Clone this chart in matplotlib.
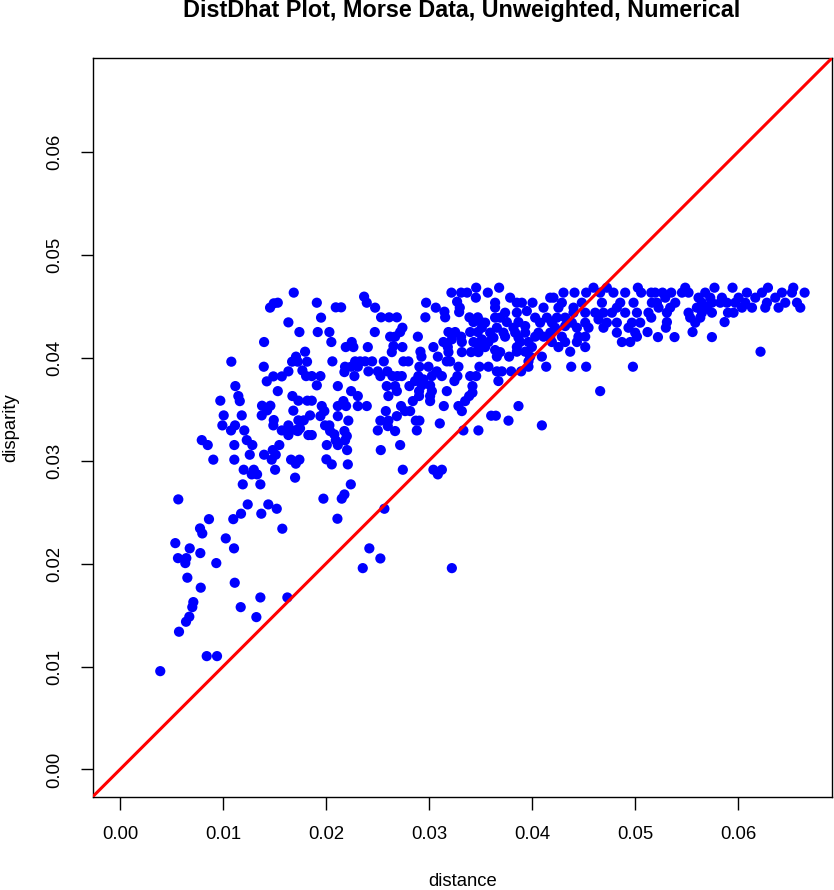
import matplotlib
matplotlib.use("Agg")
import matplotlib.pyplot as plt
import numpy as np

plt.rcParams['font.family'] = ['Liberation Sans', 'DejaVu Sans']

# ---- data: lower-left scatter group ----
dist_low = [0.01192, 0.01363, 0.00566, 0.01240, 0.01440, 0.01522, 0.01175, 0.01372, 0.01100, 0.00864,
            0.00777, 0.00799, 0.01576, 0.01027, 0.00537, 0.00677, 0.01107, 0.00780, 0.00563, 0.00644,
            0.00634, 0.00935, 0.00654, 0.01114, 0.00784, 0.01363, 0.01625, 0.01172, 0.01324, 0.00712,
            0.00702, 0.00673, 0.00641, 0.00573, 0.00842, 0.00942, 0.00391]
disp_low = [0.02770, 0.02770, 0.02624, 0.02575, 0.02575, 0.02533, 0.02485, 0.02485, 0.02432, 0.02432,
            0.02342, 0.02293, 0.02339, 0.02245, 0.02199, 0.02148, 0.02148, 0.02102, 0.02053, 0.02053,
            0.02005, 0.02005, 0.01863, 0.01814, 0.01766, 0.01671, 0.01671, 0.01577, 0.01480, 0.01626,
            0.01577, 0.01484, 0.01435, 0.01338, 0.01101, 0.01101, 0.00955]

# ---- upper-left group ----
dist_ul = [0.01687, 0.01493, 0.01532, 0.01457, 0.01635, 0.01742, 0.01399, 0.01797, 0.01709, 0.01671,
           0.01726, 0.01816, 0.01081, 0.01396, 0.01635, 0.01771, 0.01807, 0.01862, 0.01489, 0.01571,
           0.01425, 0.01120, 0.01532, 0.01149, 0.01163, 0.00974, 0.01674, 0.01732, 0.01819, 0.01862,
           0.01379, 0.01460, 0.01428, 0.01683, 0.01007, 0.01182, 0.01376, 0.01845, 0.01493, 0.00994,
           0.01117, 0.01489, 0.01635, 0.01732, 0.01784, 0.01078, 0.01207, 0.01571, 0.01635, 0.01707,
           0.01748, 0.01635, 0.01726, 0.01829, 0.01862, 0.00794, 0.00852, 0.01231, 0.01285, 0.01110,
           0.01547, 0.01399, 0.01483, 0.01512, 0.01260, 0.00906, 0.01110, 0.01473, 0.01661, 0.01707,
           0.01742, 0.01201, 0.01299, 0.01331, 0.01279, 0.01506, 0.01700]
disp_ul = [0.04633, 0.04529, 0.04535, 0.04487, 0.04344, 0.04250, 0.04153, 0.04059, 0.04011, 0.03962,
           0.03962, 0.03962, 0.03962, 0.03913, 0.03868, 0.03877, 0.03822, 0.03822, 0.03819, 0.03819,
           0.03771, 0.03725, 0.03676, 0.03628, 0.03579, 0.03583, 0.03628, 0.03583, 0.03583, 0.03583,
           0.03534, 0.03534, 0.03489, 0.03486, 0.03440, 0.03440, 0.03440, 0.03440, 0.03395, 0.03343,
           0.03343, 0.03343, 0.03343, 0.03392, 0.03392, 0.03294, 0.03294, 0.03294, 0.03272, 0.03297,
           0.03314, 0.03249, 0.03288, 0.03249, 0.03249, 0.03200, 0.03152, 0.03200, 0.03152, 0.03152,
           0.03152, 0.03058, 0.03103, 0.03058, 0.03058, 0.03010, 0.03010, 0.03010, 0.03010, 0.02971,
           0.03010, 0.02912, 0.02912, 0.02867, 0.02867, 0.02912, 0.02835]

# ---- middle group ----
dist_mid = [0.03458, 0.03218, 0.03312, 0.03370, 0.03455, 0.02370, 0.02396, 0.01911, 0.02477, 0.02095,
            0.02147, 0.02972, 0.03066, 0.03273, 0.03299, 0.03150, 0.03293, 0.01952, 0.02535, 0.02613,
            0.02688, 0.02965, 0.03157, 0.03393, 0.03474, 0.03506, 0.03432, 0.01920, 0.02033, 0.02474,
            0.02742, 0.02720, 0.02671, 0.02623, 0.02892, 0.03189, 0.03254, 0.03312, 0.03400, 0.03474,
            0.03513, 0.02052, 0.02250, 0.02192, 0.02266, 0.02406, 0.02655, 0.02742, 0.03043, 0.03140,
            0.03183, 0.03222, 0.03319, 0.03432, 0.03480, 0.03513, 0.02639, 0.02917, 0.03189, 0.03319,
            0.03409, 0.03480, 0.02062, 0.02283, 0.02331, 0.02380, 0.02448, 0.02561, 0.02752, 0.02800,
            0.02927, 0.03086, 0.03173, 0.03205, 0.02185, 0.02244, 0.02309, 0.02907, 0.02995, 0.03286,
            0.03490, 0.02179, 0.02412, 0.02503, 0.02596, 0.02645, 0.02736, 0.03076, 0.03125, 0.03276,
            0.03400, 0.03458, 0.01946, 0.01911, 0.02276, 0.02528, 0.02693, 0.02897, 0.02946, 0.03028,
            0.02865, 0.02930, 0.03011, 0.02810, 0.02590, 0.02671, 0.02115, 0.03247, 0.03422, 0.03173,
            0.02244, 0.02688, 0.02904, 0.03028, 0.02309, 0.02606, 0.02904, 0.03011, 0.03390, 0.03422,
            0.02169, 0.02843, 0.03011, 0.03351, 0.01959, 0.02115, 0.02195, 0.02309, 0.02396, 0.02729,
            0.03144, 0.03286, 0.01984, 0.02581, 0.02768, 0.02817, 0.03319, 0.01946, 0.02115, 0.02688,
            0.01991, 0.02033, 0.02217, 0.02528, 0.02606, 0.02872, 0.02907, 0.03105, 0.02040, 0.02081,
            0.02179, 0.02202, 0.02503, 0.02600, 0.02671, 0.02882, 0.03334, 0.03480, 0.02095, 0.02185,
            0.02008, 0.02115, 0.02720, 0.02205, 0.02532, 0.02004, 0.02056, 0.02212, 0.02746, 0.03043,
            0.03125, 0.03086, 0.02241, 0.02179, 0.02153, 0.01975, 0.02567, 0.02111, 0.02421, 0.02528,
            0.02357, 0.03222]
disp_mid = [0.04681, 0.04633, 0.04633, 0.04633, 0.04584, 0.04594, 0.04535, 0.04535, 0.04487, 0.04490,
            0.04490, 0.04535, 0.04487, 0.04545, 0.04487, 0.04448, 0.04444, 0.04390, 0.04393, 0.04393,
            0.04393, 0.04393, 0.04393, 0.04393, 0.04393, 0.04347, 0.04347, 0.04250, 0.04250, 0.04250,
            0.04292, 0.04250, 0.04205, 0.04205, 0.04205, 0.04250, 0.04250, 0.04205, 0.04250, 0.04250,
            0.04292, 0.04153, 0.04153, 0.04104, 0.04104, 0.04104, 0.04114, 0.04104, 0.04104, 0.04153,
            0.04104, 0.04179, 0.04153, 0.04153, 0.04104, 0.04179, 0.04055, 0.04059, 0.04055, 0.04055,
            0.04055, 0.04055, 0.03965, 0.03965, 0.03965, 0.03965, 0.03965, 0.03965, 0.03965, 0.03965,
            0.04011, 0.04011, 0.03965, 0.03965, 0.03913, 0.03913, 0.03913, 0.03913, 0.03913, 0.03913,
            0.03913, 0.03861, 0.03868, 0.03868, 0.03868, 0.03822, 0.03822, 0.03868, 0.03822, 0.03822,
            0.03822, 0.03822, 0.03822, 0.03732, 0.03822, 0.03822, 0.03822, 0.03822, 0.03790, 0.03822,
            0.03774, 0.03732, 0.03732, 0.03725, 0.03725, 0.03725, 0.03725, 0.03774, 0.03725, 0.03676,
            0.03676, 0.03676, 0.03676, 0.03676, 0.03628, 0.03628, 0.03628, 0.03628, 0.03628, 0.03661,
            0.03579, 0.03579, 0.03579, 0.03579, 0.03531, 0.03531, 0.03531, 0.03531, 0.03531, 0.03531,
            0.03531, 0.03531, 0.03482, 0.03482, 0.03482, 0.03482, 0.03482, 0.03433, 0.03433, 0.03433,
            0.03343, 0.03343, 0.03389, 0.03389, 0.03389, 0.03389, 0.03389, 0.03362, 0.03288, 0.03256,
            0.03288, 0.03239, 0.03294, 0.03336, 0.03288, 0.03294, 0.03294, 0.03294, 0.03197, 0.03197,
            0.03152, 0.03152, 0.03152, 0.03103, 0.03103, 0.03013, 0.02964, 0.02964, 0.02912, 0.02912,
            0.02912, 0.02867, 0.02770, 0.02672, 0.02631, 0.02631, 0.02533, 0.02436, 0.02148, 0.02050,
            0.01956, 0.01956]

# ---- right group (x 0.035 - 0.052) ----
dist_r1 = [0.03681, 0.03571, 0.03788, 0.03642, 0.03642, 0.03853, 0.03902, 0.04005, 0.04177, 0.04209,
           0.04306, 0.04413, 0.04526, 0.04597, 0.04662, 0.04727, 0.04791, 0.04905, 0.05028, 0.05060,
           0.05158, 0.05164, 0.04857, 0.04986, 0.04679, 0.04484, 0.04403, 0.04290, 0.04257, 0.04112,
           0.03950, 0.03853, 0.03739, 0.03642, 0.03691, 0.03545, 0.03756, 0.03869, 0.04031, 0.04145,
           0.04242, 0.04322, 0.04403, 0.04517, 0.04614, 0.04694, 0.04776, 0.04824, 0.04905, 0.05019,
           0.05131, 0.05158, 0.04517, 0.04646, 0.04727, 0.04824, 0.04970, 0.05051, 0.04387, 0.04322,
           0.04193, 0.04079, 0.03934, 0.03820, 0.03659, 0.03594, 0.03723, 0.03837, 0.03934, 0.04063,
           0.04177, 0.04225, 0.04436, 0.04549, 0.04694, 0.04824, 0.04937, 0.05002, 0.05122, 0.03626,
           0.03739, 0.03869, 0.04031, 0.04112, 0.04177, 0.04290, 0.04451, 0.04517, 0.05019, 0.04873,
           0.04954, 0.03577, 0.03885, 0.03966, 0.04193, 0.04322, 0.04436, 0.03545, 0.03642, 0.03691,
           0.03853, 0.03999, 0.04257, 0.04517, 0.04371, 0.03853, 0.03934, 0.03659, 0.03778, 0.03982,
           0.04096, 0.03966, 0.03577, 0.03966, 0.04138, 0.04381, 0.04526, 0.04980, 0.03659, 0.03707,
           0.03798, 0.03895, 0.03674, 0.04662, 0.03869, 0.03604, 0.03649, 0.03772, 0.04096]
disp_r1 = [0.04681, 0.04633, 0.04584, 0.04535, 0.04487, 0.04535, 0.04535, 0.04535, 0.04584, 0.04584,
           0.04633, 0.04633, 0.04633, 0.04681, 0.04633, 0.04681, 0.04633, 0.04633, 0.04681, 0.04633,
           0.04633, 0.04535, 0.04535, 0.04535, 0.04535, 0.04535, 0.04487, 0.04535, 0.04487, 0.04487,
           0.04454, 0.04438, 0.04438, 0.04390, 0.04390, 0.04341, 0.04347, 0.04347, 0.04390, 0.04390,
           0.04390, 0.04390, 0.04438, 0.04438, 0.04438, 0.04438, 0.04438, 0.04487, 0.04438, 0.04438,
           0.04438, 0.04390, 0.04341, 0.04373, 0.04341, 0.04341, 0.04341, 0.04341, 0.04341, 0.04308,
           0.04341, 0.04341, 0.04308, 0.04292, 0.04292, 0.04244, 0.04244, 0.04244, 0.04244, 0.04244,
           0.04244, 0.04292, 0.04292, 0.04292, 0.04292, 0.04244, 0.04292, 0.04244, 0.04250, 0.04195,
           0.04205, 0.04195, 0.04205, 0.04205, 0.04195, 0.04205, 0.04205, 0.04205, 0.04205, 0.04153,
           0.04153, 0.04153, 0.04153, 0.04153, 0.04153, 0.04153, 0.04153, 0.04104, 0.04075, 0.04055,
           0.04104, 0.04104, 0.04104, 0.04104, 0.04059, 0.04059, 0.04059, 0.04011, 0.04011, 0.04011,
           0.04011, 0.03965, 0.03913, 0.03913, 0.03913, 0.03913, 0.03913, 0.03913, 0.03868, 0.03868,
           0.03868, 0.03868, 0.03774, 0.03676, 0.03531, 0.03437, 0.03437, 0.03389, 0.03343]

# ---- far right group (x > 0.052) ----
dist_r2 = [0.05488, 0.05772, 0.05947, 0.06291, 0.06537, 0.05196, 0.05267, 0.05352, 0.05456, 0.05520,
           0.05682, 0.06087, 0.06233, 0.06427, 0.06524, 0.06647, 0.05294, 0.05617, 0.05731, 0.05844,
           0.06006, 0.06168, 0.06362, 0.05213, 0.05391, 0.05650, 0.05747, 0.05828, 0.05893, 0.05973,
           0.06071, 0.06281, 0.06459, 0.06573, 0.05229, 0.05342, 0.05601, 0.05699, 0.06039, 0.06136,
           0.06265, 0.06394, 0.06605, 0.05310, 0.05520, 0.05650, 0.05747, 0.05903, 0.05957, 0.05536,
           0.05634, 0.05585, 0.05310, 0.05870, 0.05300, 0.05559, 0.05223, 0.05384, 0.05747, 0.06219]
disp_r2 = [0.04681, 0.04681, 0.04681, 0.04681, 0.04681, 0.04633, 0.04633, 0.04633, 0.04633, 0.04633,
           0.04633, 0.04633, 0.04633, 0.04633, 0.04633, 0.04633, 0.04584, 0.04584, 0.04584, 0.04584,
           0.04584, 0.04584, 0.04584, 0.04535, 0.04535, 0.04535, 0.04535, 0.04535, 0.04535, 0.04535,
           0.04535, 0.04535, 0.04535, 0.04535, 0.04487, 0.04487, 0.04487, 0.04487, 0.04487, 0.04487,
           0.04487, 0.04487, 0.04487, 0.04438, 0.04438, 0.04438, 0.04438, 0.04438, 0.04438, 0.04390,
           0.04390, 0.04341, 0.04347, 0.04347, 0.04292, 0.04250, 0.04201, 0.04201, 0.04201, 0.04059]

distance = np.array(dist_low + dist_ul + dist_mid + dist_r1 + dist_r2)
disparity = np.array(disp_low + disp_ul + disp_mid + disp_r1 + disp_r2)

x_ticks = [0.00, 0.01, 0.02, 0.03, 0.04, 0.05, 0.06]
y_ticks = [0.00, 0.01, 0.02, 0.03, 0.04, 0.05, 0.06]

W, H = 834, 890
fig = plt.figure(figsize=(W / 100, H / 100), dpi=100)
ax = fig.add_axes([92.7 / W, 1 - 796.7 / H, (831.7 - 92.7) / W, (796.7 - 58.3) / H])

ax.scatter(distance, disparity, s=54, c='#0000FF', edgecolors='none', zorder=2)
ax.axline((0, 0), slope=1, color='#FF0000', lw=2.2, zorder=3)

lim = (-0.00265, 0.0691)
ax.set_xlim(lim)
ax.set_ylim(lim)
ax.set_xticks(x_ticks)
ax.set_yticks(y_ticks)
ax.set_xticklabels([f"{v:.2f}" for v in x_ticks])
ax.set_yticklabels([f"{v:.2f}" for v in y_ticks], rotation=90, va='center')
ax.tick_params(axis='both', direction='out', length=9, width=1, labelsize=13.3, colors='black')
ax.tick_params(axis='x', pad=12)
ax.tick_params(axis='y', pad=12)
for sp in ax.spines.values():
    sp.set_linewidth(1)
    sp.set_color('black')

ax.set_xlabel('distance', fontsize=13.3, labelpad=22)
ax.set_ylabel('disparity', fontsize=13.3, labelpad=20)
fig.text(462 / W, 1 - 11 / H, 'DistDhat Plot, Morse Data, Unweighted, Numerical',
         ha='center', va='center', fontsize=16.8, fontweight='bold')

fig.savefig('out.png', dpi=100)
